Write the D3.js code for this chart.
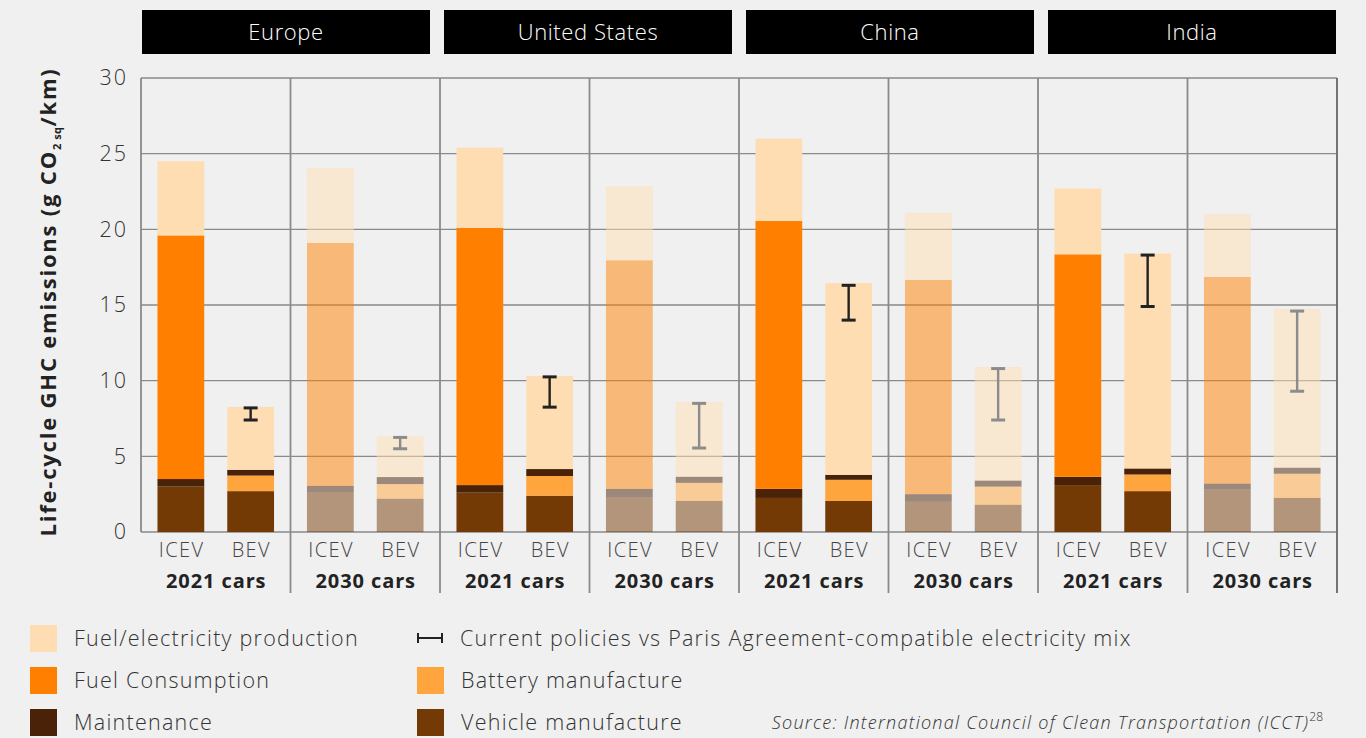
<!DOCTYPE html>
<html><head><meta charset="utf-8">
<script src="https://cdn.jsdelivr.net/npm/d3@7"></script>
<style>
html,body{margin:0;padding:0;background:#f0f0f0;}
svg{display:block;font-family:"Open Sans","Noto Sans",sans-serif;}
</style></head>
<body>
<svg id="c" width="1366" height="738"></svg>
<script>
const regions = ["Europe","United States","China","India"];
const years = ["2021 cars","2030 cars"];
const types = ["ICEV","BEV"];
const yTicks = [0,5,10,15,20,25,30];
// bars ordered: region > year > type
const vehicle        = [3.0, 2.7, 2.6, 2.2,  2.6, 2.4, 2.3, 2.05,  2.25, 2.05, 2.0, 1.8,  3.1, 2.7, 2.8, 2.25];
const battery        = [0, 1.03, 0, 0.97,    0, 1.3, 0, 1.2,       0, 1.4, 0, 1.2,        0, 1.1, 0, 1.6];
const maintenance    = [0.5, 0.38, 0.45, 0.46, 0.5, 0.46, 0.55, 0.4, 0.6, 0.33, 0.5, 0.4, 0.55, 0.4, 0.4, 0.4];
const fuelConsumption= [16.1, 0, 16.05, 0,   17.0, 0, 15.1, 0,     17.7, 0, 14.15, 0,     14.7, 0, 13.65, 0];
const fuelProduction = [4.9, 4.16, 4.95, 2.7, 5.3, 6.15, 4.9, 4.95, 5.45, 12.67, 4.45, 7.5, 4.35, 14.2, 4.15, 10.5];
const errLow  = [null, 7.4, null, 5.5,  null, 8.25, null, 5.55, null, 14.0, null, 7.4, null, 14.9, null, 9.3];
const errHigh = [null, 8.2, null, 6.25, null, 10.25, null, 8.5, null, 16.3, null, 10.8, null, 18.3, null, 14.6];

const segKeys = ["vehicle","battery","maintenance","fuelConsumption","fuelProduction"];
const segNames = {vehicle:"Vehicle manufacture",battery:"Battery manufacture",maintenance:"Maintenance",fuelConsumption:"Fuel Consumption",fuelProduction:"Fuel/electricity production"};
const colors = {vehicle:"#733a06",battery:"#ffa53e",maintenance:"#4a2208",fuelConsumption:"#ff8000",fuelProduction:"#ffddb2"};

const rows = [];
let i = 0;
regions.forEach(r => years.forEach(yr => types.forEach(t => {
  rows.push({region:r, year:yr, type:t, vehicle:vehicle[i], battery:battery[i], maintenance:maintenance[i],
    fuelConsumption:fuelConsumption[i], fuelProduction:fuelProduction[i], lo:errLow[i], hi:errHigh[i]});
  i++;
})));

const svg = d3.select("#c");
const L = 141, R = 1337, T = 78, B = 532;
const y = d3.scaleLinear().domain([0,30]).range([B,T]);
const xRegion = d3.scaleBand().domain(regions).range([L,R]);
const xYear = d3.scaleBand().domain(years).range([0,xRegion.bandwidth()]);
const xType = d3.scaleBand().domain(types).range([0,xYear.bandwidth()]).paddingInner(0.33).paddingOuter(0.236);
const xHead = d3.scaleBand().domain(regions).range([142,1336]).paddingInner(0.0464);
const xpos = d => xRegion(d.region) + xYear(d.year) + xType(d.type);

// gridlines
svg.append("g").selectAll("line").data(yTicks).join("line")
  .attr("x1",L).attr("x2",R).attr("y1",d=>y(d)).attr("y2",d=>y(d))
  .attr("stroke","#8a8a8a").attr("stroke-width",1.3);

// y axis labels
const yAxis = d3.axisLeft(y).tickValues(yTicks).tickSize(0).tickPadding(13);
const ga = svg.append("g").attr("transform",`translate(${L},0)`).call(yAxis);
ga.select(".domain").remove();
ga.selectAll("text").attr("font-size",21.5).attr("letter-spacing",2).attr("fill","#333")
  .attr("font-family","'Open Sans',sans-serif").attr("font-weight",300);

// dividers
const divs = [];
regions.forEach(r => years.forEach(yr => divs.push(xRegion(r)+xYear(yr))));
divs.push(R);
svg.append("g").selectAll("line").data(divs).join("line")
  .attr("x1",d=>d).attr("x2",d=>d).attr("y1",T).attr("y2",(d)=> d===L ? B : 593)
  .attr("stroke",d=> d===R ? "#666" : "#8a8a8a").attr("stroke-width",1.8);

// stacked bars
const stack = d3.stack().keys(segKeys);
const series = stack(rows);
const gb = svg.append("g");
series.forEach(s => {
  gb.append("g").selectAll("rect").data(s).join("rect")
    .attr("x", d => xpos(d.data))
    .attr("width", xType.bandwidth())
    .attr("y", d => y(d[1]))
    .attr("height", d => Math.max(0, y(d[0]) - y(d[1])))
    .attr("fill", colors[s.key])
    .attr("fill-opacity", d => d.data.year === "2030 cars" ? 0.5 : 1);
});

// error bars
const eb = rows.filter(d => d.lo != null);
const ge = svg.append("g");
eb.forEach(d => {
  const cx = xpos(d) + xType.bandwidth()/2;
  const col = d.year === "2030 cars" ? "#8c8c8c" : "#222";
  const g = ge.append("g").attr("stroke",col).attr("stroke-width",2.4);
  g.append("line").attr("x1",cx).attr("x2",cx).attr("y1",y(d.hi)).attr("y2",y(d.lo));
  [d.hi,d.lo].forEach(v => g.append("line").attr("x1",cx-7).attr("x2",cx+7).attr("y1",y(v)).attr("y2",y(v)).attr("stroke-width",3));
});

// x labels
svg.append("g").selectAll("text").data(rows).join("text")
  .attr("x", d => xpos(d) + xType.bandwidth()/2 + 0.7).attr("y",557)
  .attr("text-anchor","middle").attr("font-size",20).attr("letter-spacing",1.4).attr("fill","#444").attr("font-weight",300)
  .text(d => d.type);
const yrLab = [];
regions.forEach(r => years.forEach(yr => yrLab.push({r, yr})));
svg.append("g").selectAll("text").data(yrLab).join("text")
  .attr("x", d => xRegion(d.r)+xYear(d.yr)+xYear.bandwidth()/2 + 0.5).attr("y",588)
  .attr("text-anchor","middle").attr("font-size",20).attr("letter-spacing",0.9).attr("font-weight",700).attr("fill","#222")
  .text(d => d.yr);

// headers
const gh = svg.append("g");
gh.selectAll("rect").data(regions).join("rect")
  .attr("x",d=>xHead(d)).attr("width",xHead.bandwidth()).attr("y",10).attr("height",44).attr("fill","#000");
gh.selectAll("text").data(regions).join("text")
  .attr("x",d=>xHead(d)+xHead.bandwidth()/2).attr("y",40).attr("text-anchor","middle")
  .attr("fill","#fff").attr("font-size",22).attr("letter-spacing",0.6).attr("font-weight",300).text(d=>d);

// y title
const yt = svg.append("text").attr("transform","translate(56,302) rotate(-90)")
  .attr("text-anchor","middle").attr("font-size",22).attr("letter-spacing",1.8).attr("font-weight",700).attr("fill","#222");
yt.append("tspan").text("Life-cycle GHC emissions (g CO");
yt.append("tspan").attr("font-size",11).attr("letter-spacing",0.5).attr("dy",5).text("2 sq");
yt.append("tspan").attr("dy",-5).text("/km)");

// legend
const legItems = [
  {k:"fuelProduction", x:30, y:625},
  {k:"fuelConsumption", x:30, y:667},
  {k:"maintenance", x:30, y:709},
  {k:"err", x:417, y:625},
  {k:"battery", x:417, y:667},
  {k:"vehicle", x:417, y:709}
];
const gl = svg.append("g");
legItems.forEach(it => {
  if (it.k === "err") {
    const g = gl.append("g").attr("stroke","#222").attr("stroke-width",2);
    g.append("line").attr("x1",it.x).attr("x2",it.x+26).attr("y1",it.y+13).attr("y2",it.y+13);
    g.append("line").attr("x1",it.x+1).attr("x2",it.x+1).attr("y1",it.y+8).attr("y2",it.y+18);
    g.append("line").attr("x1",it.x+25).attr("x2",it.x+25).attr("y1",it.y+8).attr("y2",it.y+18);
    gl.append("text").attr("x",it.x+43).attr("y",it.y+21).attr("font-size",21.5).attr("letter-spacing",1.25).attr("fill","#333").attr("font-weight",300)
      .text("Current policies vs Paris Agreement-compatible electricity mix");
  } else {
    gl.append("rect").attr("x",it.x).attr("y",it.y).attr("width",27).attr("height",27).attr("fill",colors[it.k]);
    gl.append("text").attr("x",it.x+44).attr("y",it.y+21).attr("font-size",21.5).attr("letter-spacing",1.25).attr("fill","#333").attr("font-weight",300)
      .text(segNames[it.k]);
  }
});

// source
const src = svg.append("text").attr("x",1323).attr("y",729).attr("text-anchor","end")
  .attr("font-size",18).attr("letter-spacing",1.25).attr("font-style","italic").attr("fill","#333").attr("font-weight",300);
src.append("tspan").text("Source: International Council of Clean Transportation (ICCT)");
src.append("tspan").attr("font-size",12).attr("letter-spacing",0).attr("dy",-8).attr("font-style","normal").text("28");
</script>
</body></html>
